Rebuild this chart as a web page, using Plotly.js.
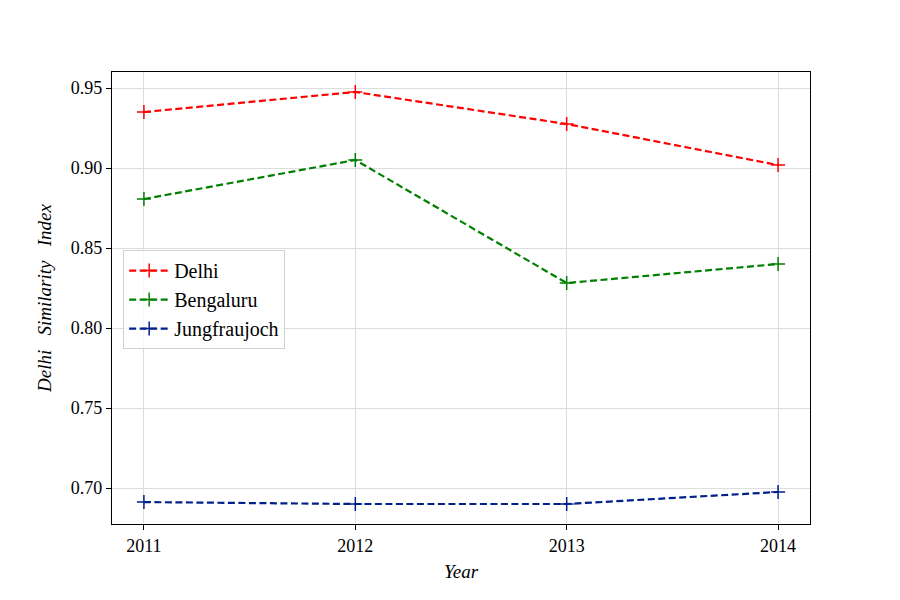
<!DOCTYPE html>
<html>
<head>
<meta charset="utf-8">
<script src="https://cdn.plot.ly/plotly-3.0.1.min.js"></script>
<style>body{margin:0;padding:0;background:#fff;}#chart{width:900px;height:600px;}</style>
</head>
<body>
<div id="chart"></div>
<script>
const years = [2011, 2012, 2013, 2014];
const delhi = [0.935, 0.9475, 0.9275, 0.9018];
const bengaluru = [0.8806, 0.905, 0.8281, 0.8400];
const jungfraujoch = [0.6912, 0.6900, 0.6900, 0.6975];
const seriesNames = ["Delhi", "Bengaluru", "Jungfraujoch"];
const seriesColors = ["#ff0000", "#008000", "#00208c"];
const seriesValues = [delhi, bengaluru, jungfraujoch];

const traces = seriesValues.map((vals, i) => ({
  x: years, y: vals, name: seriesNames[i], type: "scatter", mode: "lines+markers",
  line: {color: seriesColors[i], width: 2.2, dash: "7px,3.5px"},
  marker: {symbol: "cross-thin-open", size: 10, line: {color: seriesColors[i], width: 1.5}}
}));

const fam = "'Liberation Serif', 'Times New Roman', Times, serif";
const font = {family: fam, size: 18, color: "#000"};
const layout = {
  width: 900, height: 600,
  paper_bgcolor: "#fff", plot_bgcolor: "#fff",
  margin: {l: 112, r: 90, t: 72, b: 76},
  font: font,
  showlegend: true,
  legend: {x: 0.016, y: 0.606, xanchor: "left", yanchor: "top",
    bgcolor: "rgba(255,255,255,0.8)", bordercolor: "#d0d0d0", borderwidth: 1,
    font: {family: fam, size: 20}, tracegroupgap: 0, itemwidth: 40},
  xaxis: {
    range: [2010.849, 2014.151], tickvals: years, ticktext: years.map(String),
    showgrid: true, gridcolor: "#dddddd", gridwidth: 1, zeroline: false,
    showline: true, linecolor: "#000", linewidth: 1.2, mirror: true,
    ticks: "outside", ticklen: 5, tickcolor: "#000",
    title: {text: "<i>Year</i>", font: {family: fam, size: 19}, standoff: 10}
  },
  yaxis: {
    range: [0.6775, 0.96], tickvals: [0.70, 0.75, 0.80, 0.85, 0.90, 0.95], tickformat: ".2f",
    showgrid: true, gridcolor: "#dddddd", gridwidth: 1, zeroline: false,
    showline: true, linecolor: "#000", linewidth: 1.2, mirror: true,
    ticks: "outside", ticklen: 5, tickcolor: "#000",
    title: {text: "<i>Delhi&nbsp;&nbsp; Similarity&nbsp;&nbsp; Index</i>", font: {family: fam, size: 19}, standoff: 14}
  }
};
Plotly.newPlot("chart", traces, layout, {displayModeBar: false, staticPlot: true});
</script>
</body>
</html>
